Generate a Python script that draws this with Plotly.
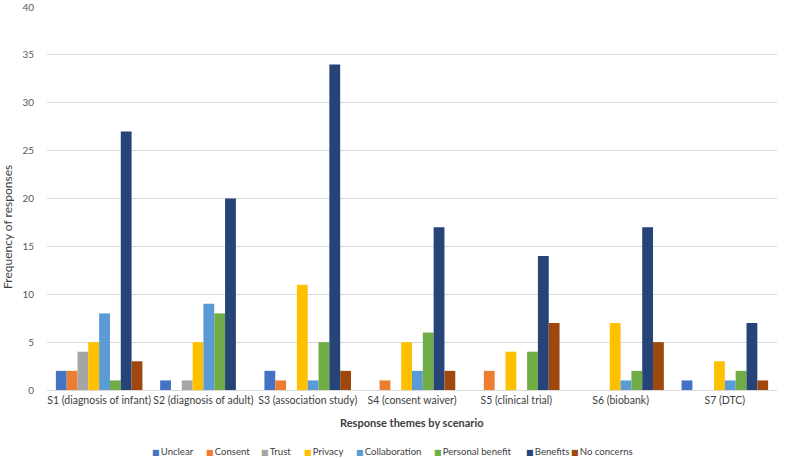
import plotly.graph_objects as go

scenarios = ["S1 (diagnosis of infant)", "S2 (diagnosis of adult)", "S3 (association study)",
             "S4 (consent waiver)", "S5 (clinical trial)", "S6 (biobank)", "S7 (DTC)"]
unclear = [2, 1, 2, 0, 0, 0, 1]
consent = [2, 0, 1, 1, 2, 0, 0]
trust = [4, 1, 0, 0, 0, 0, 0]
privacy = [5, 5, 11, 5, 4, 7, 3]
collaboration = [8, 9, 1, 2, 0, 1, 1]
personal_benefit = [1, 8, 5, 6, 4, 2, 2]
benefits = [27, 20, 34, 17, 14, 17, 7]
no_concerns = [3, 0, 2, 2, 7, 5, 1]
y_ticks = [0, 5, 10, 15, 20, 25, 30, 35, 40]

series = [
    ("Unclear", unclear, "#4472C4"),
    ("Consent", consent, "#ED7D31"),
    ("Trust", trust, "#A5A5A5"),
    ("Privacy", privacy, "#FFC000"),
    ("Collaboration", collaboration, "#5B9BD5"),
    ("Personal benefit", personal_benefit, "#70AD47"),
    ("Benefits", benefits, "#264478"),
    ("No concerns", no_concerns, "#9E480E"),
]

# legend swatch left edges in pixels (layout only)
legend_px = [153, 207, 262, 305, 357, 435, 527, 572]

L, R, T, B = 47, 8, 7, 68
W, H = 785, 458
pw, ph = W - L - R, H - T - B

def px_to_paper_x(px):
    return (px - L) / pw

def py_to_paper_y(py):
    return (H - B - py) / ph

font = "Lato, Open Sans, sans-serif"
fig = go.Figure()
annotations = []
for (name, vals, color), lx in zip(series, legend_px):
    fig.add_trace(go.Bar(name=name, x=scenarios, y=vals, showlegend=False,
                         marker=dict(color=color, line=dict(width=0))))
    annotations.append(dict(
        xref="paper", yref="paper", x=px_to_paper_x(lx - 2), y=py_to_paper_y(451),
        xanchor="left", yanchor="middle", showarrow=False, borderpad=0,
        text=f"<span style='font-family:DejaVu Sans;font-size:8px;color:{color}'>■</span>\u2009{name}",
        font=dict(family=font, size=9.6, color="#404040")))

annotations.append(dict(
    xref="paper", yref="paper", x=0.5, y=py_to_paper_y(422), xanchor="center", yanchor="middle",
    showarrow=False, text="<b>Response themes by scenario</b>",
    font=dict(family=font, size=11, color="#404040")))

annotations.append(dict(
    xref="paper", yref="paper", x=px_to_paper_x(7), y=py_to_paper_y(227), xanchor="center", yanchor="middle",
    showarrow=False, textangle=-90, text="Frequency of responses",
    font=dict(family=font, size=12, color="#404040")))

fig.update_layout(
    width=W, height=H,
    margin=dict(l=L, r=R, t=T, b=B),
    barmode="group", bargap=0.17, bargroupgap=0,
    plot_bgcolor="white", paper_bgcolor="white",
    font=dict(family=font, size=10, color="#595959"),
    showlegend=False,
    annotations=annotations,
    xaxis=dict(showgrid=False, showline=True, linecolor="#d9d9d9", ticks="", tickangle=0,
               automargin=False,
               tickfont=dict(family=font, size=10.5, color="#404040")),
    yaxis=dict(range=[0, 40], tickvals=y_ticks,
               showgrid=True, gridcolor="#d9d9d9", zeroline=False, automargin=False,
               tickfont=dict(family=font, size=10, color="#595959"), ticks="outside",
               ticklen=10, tickcolor="white"),
)
fig.write_html("out.html", config={"displayModeBar": False},
               post_script="document.body.style.margin='0';document.body.style.padding='0';")
